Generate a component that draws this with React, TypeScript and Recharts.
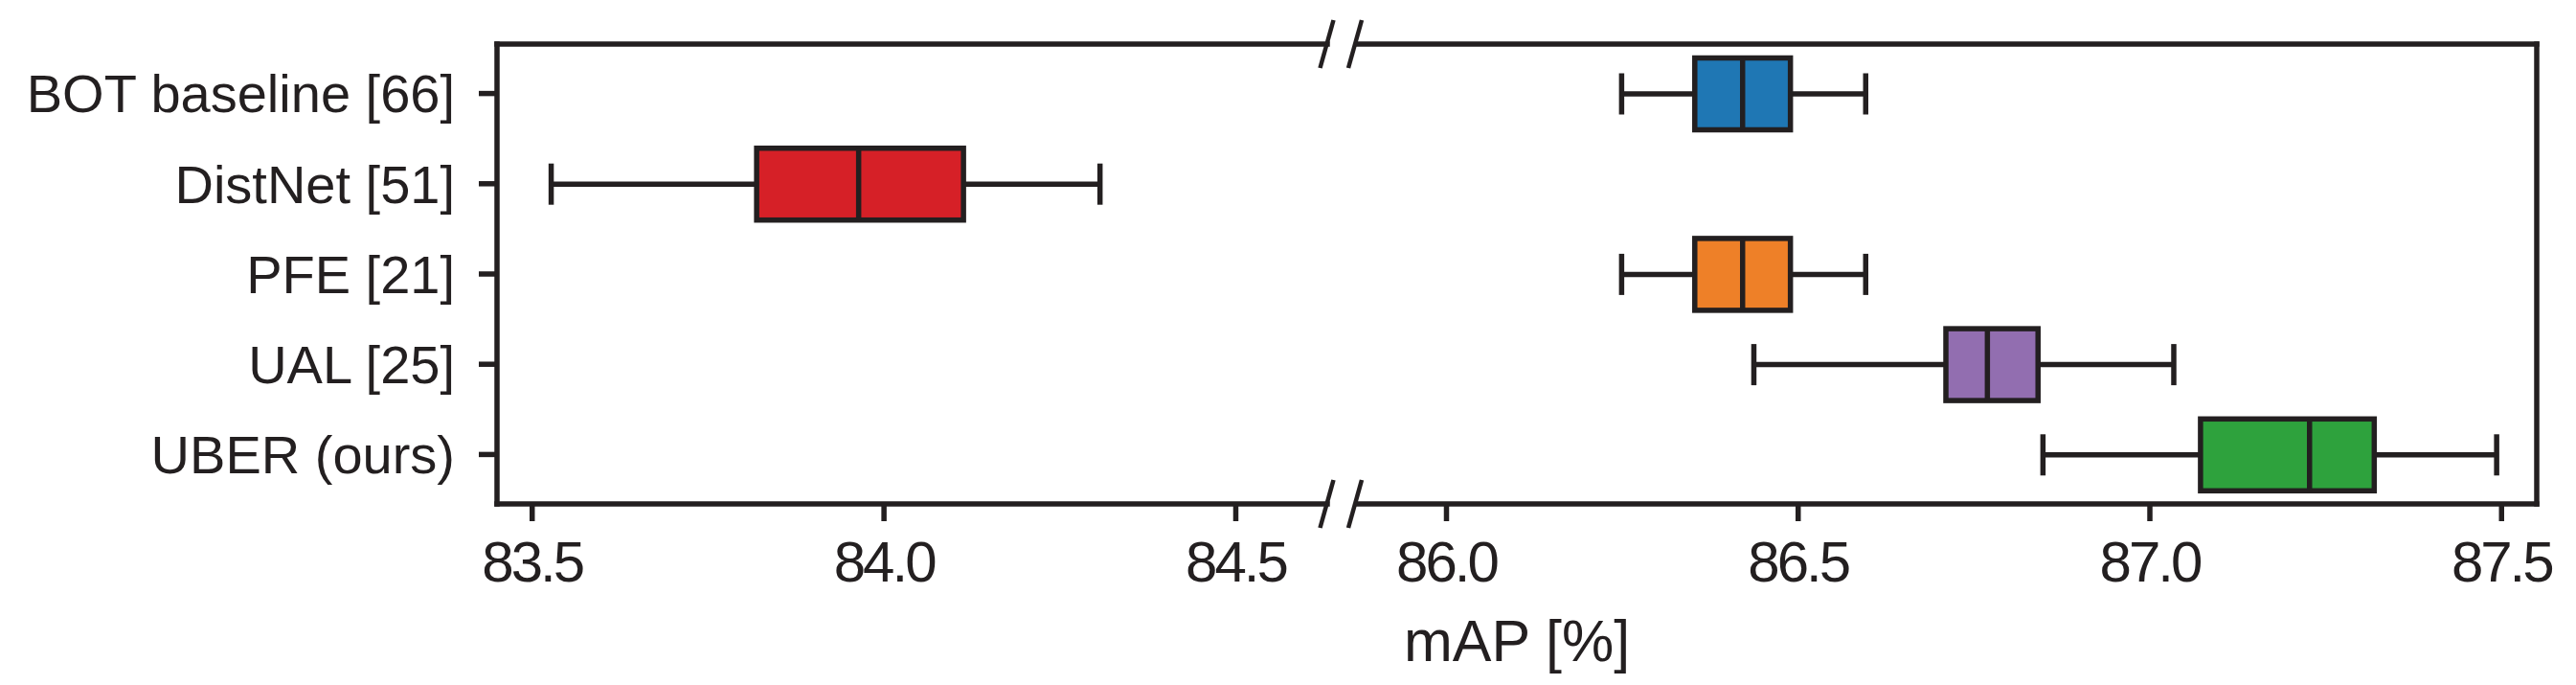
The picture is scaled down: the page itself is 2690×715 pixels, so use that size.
import React from "react";
import { ComposedChart, Bar, XAxis, YAxis } from "recharts";

const methods = ["BOT baseline [66]", "DistNet [51]", "PFE [21]", "UAL [25]", "UBER (ours)"];
const whiskerLow = [86.249, 83.527, 86.249, 86.437, 86.848];
const q1 = [86.353, 83.819, 86.353, 86.71, 87.072];
const median = [86.421, 83.964, 86.421, 86.769, 87.227];
const q3 = [86.489, 84.113, 86.489, 86.841, 87.319];
const whiskerHigh = [86.596, 84.307, 86.596, 87.034, 87.493];
const boxColors = ["#1f77b4", "#d62027", "#ee8028", "#926eb0", "#2ea23d"];

const leftDomain = [83.45, 84.63];
const rightDomain = [85.87, 87.55];
const leftTicks = [83.5, 84.0, 84.5];
const rightTicks = [86.0, 86.5, 87.0, 87.5];

const INK = "#231f20";
const FONT = '"Liberation Sans", Arial, sans-serif';
const LW = 5.5;

const W = 2690;
const H = 715;
const PLOT_TOP = 46;
const PLOT_BOTTOM = 526;
const LEFT_X0 = 519;
const LEFT_X1 = 1386;
const RIGHT_X0 = 1415;
const RIGHT_X1 = 2649;

const spine = { stroke: INK, strokeWidth: LW, strokeLinecap: "square" as const };
const tickStroke = { stroke: INK, strokeWidth: LW };

function panelRows(domain: number[]) {
  return methods.map((name, i) => {
    const inside = median[i] >= domain[0] && median[i] <= domain[1];
    return {
      name,
      color: boxColors[i],
      whisker: inside ? [whiskerLow[i], whiskerHigh[i]] : null,
      box: inside ? [q1[i], q3[i]] : null,
      med: inside ? [q1[i], median[i]] : null,
    };
  });
}

const WhiskerShape = (props: any) => {
  const { x, y, width, height, payload } = props;
  if (!payload || !payload.whisker || !width) return null;
  const cy = y + height / 2;
  return (
    <g>
      <line x1={x} x2={x + width} y1={cy} y2={cy} stroke={INK} strokeWidth={LW} />
      <line x1={x} x2={x} y1={y} y2={y + height} stroke={INK} strokeWidth={LW} />
      <line x1={x + width} x2={x + width} y1={y} y2={y + height} stroke={INK} strokeWidth={LW} />
    </g>
  );
};

const BoxShape = (props: any) => {
  const { x, y, width, height, payload } = props;
  if (!payload || !payload.box || !width) return null;
  return <rect x={x} y={y} width={width} height={height} fill={payload.color} stroke={INK} strokeWidth={LW} />;
};

const MedianShape = (props: any) => {
  const { x, y, width, height, payload } = props;
  if (!payload || !payload.med || !width) return null;
  return <line x1={x + width} x2={x + width} y1={y} y2={y + height} stroke={INK} strokeWidth={LW} />;
};

const XTick = (props: any) => {
  const { x, y, payload } = props;
  return (
    <text x={x} y={y} dy="0.71em" textAnchor="middle" fontFamily={FONT} fontSize={60} letterSpacing={-3} fill={INK}>
      {payload.value.toFixed(1)}
    </text>
  );
};

const YTick = (props: any) => {
  const { x, y, payload } = props;
  return (
    <text x={x} y={y} dy="0.355em" textAnchor="end" fontFamily={FONT} fontSize={56} fill={INK}>
      {payload.value}
    </text>
  );
};

const yPad = { top: 4.5, bottom: 4.5 };

function Panel({ side }: { side: "left" | "right" }) {
  const isLeft = side === "left";
  const domain = isLeft ? leftDomain : rightDomain;
  const ticks = isLeft ? leftTicks : rightTicks;
  const chartLeft = isLeft ? 0 : RIGHT_X0;
  const chartWidth = isLeft ? 1400 : W - RIGHT_X0;
  const plotRight = (isLeft ? LEFT_X1 : RIGHT_X1) - chartLeft;
  const data = panelRows(domain);
  // axes of zero size are not drawn, so the top/right spines get 1px
  const rightAxisW = isLeft ? 0 : 1;

  return (
    <div style={{ position: "absolute", left: chartLeft, top: 0 }}>
      <ComposedChart
        width={chartWidth}
        height={H}
        data={data}
        layout="vertical"
        margin={{ top: PLOT_TOP - 1, bottom: 0, left: 0, right: chartWidth - plotRight - rightAxisW }}
      >
        <XAxis
          type="number"
          domain={domain}
          allowDataOverflow
          ticks={ticks}
          interval={0}
          height={H - PLOT_BOTTOM}
          tickSize={18}
          tickMargin={20}
          tickLine={tickStroke}
          axisLine={spine}
          tick={<XTick />}
        />
        <XAxis
          xAxisId="top"
          orientation="top"
          type="number"
          domain={domain}
          allowDataOverflow
          height={1}
          tick={false}
          tickLine={false}
          axisLine={spine}
        />
        {isLeft ? (
          <YAxis
            yAxisId="box"
            type="category"
            dataKey="name"
            width={LEFT_X0}
            padding={yPad}
            tickSize={19}
            tickMargin={25}
            tickLine={tickStroke}
            axisLine={spine}
            tick={<YTick />}
            interval={0}
          />
        ) : (
          <YAxis
            yAxisId="box"
            type="category"
            dataKey="name"
            orientation="right"
            width={1}
            padding={yPad}
            tick={false}
            tickLine={false}
            axisLine={spine}
          />
        )}
        <YAxis yAxisId="whisker" type="category" dataKey="name" padding={yPad} hide />
        <YAxis yAxisId="med" type="category" dataKey="name" padding={yPad} hide />
        <Bar yAxisId="whisker" dataKey="whisker" barSize={43} shape={<WhiskerShape />} isAnimationActive={false} />
        <Bar yAxisId="box" dataKey="box" barSize={75} shape={<BoxShape />} isAnimationActive={false} />
        <Bar yAxisId="med" dataKey="med" barSize={75} shape={<MedianShape />} isAnimationActive={false} />
      </ComposedChart>
    </div>
  );
}

export default function App() {
  const breakXs = [LEFT_X1 - 0.5, RIGHT_X0];
  const breakYs = [PLOT_TOP, PLOT_BOTTOM];
  return (
    <div style={{ position: "absolute", left: 0, top: 0, width: W, height: H, background: "#fff", overflow: "hidden" }}>
      <Panel side="left" />
      <Panel side="right" />
      <svg width={W} height={H} style={{ position: "absolute", left: 0, top: 0, pointerEvents: "none" }}>
        {breakYs.map((by) =>
          breakXs.map((bx) => (
            <line key={`${bx}-${by}`} x1={bx - 7} y1={by + 25} x2={bx + 7} y2={by - 25} stroke={INK} strokeWidth={4.5} />
          ))
        )}
        <text x={(LEFT_X0 + RIGHT_X1) / 2} y={690} textAnchor="middle" fontFamily={FONT} fontSize={61} fill={INK}>
          mAP [%]
        </text>
      </svg>
    </div>
  );
}
